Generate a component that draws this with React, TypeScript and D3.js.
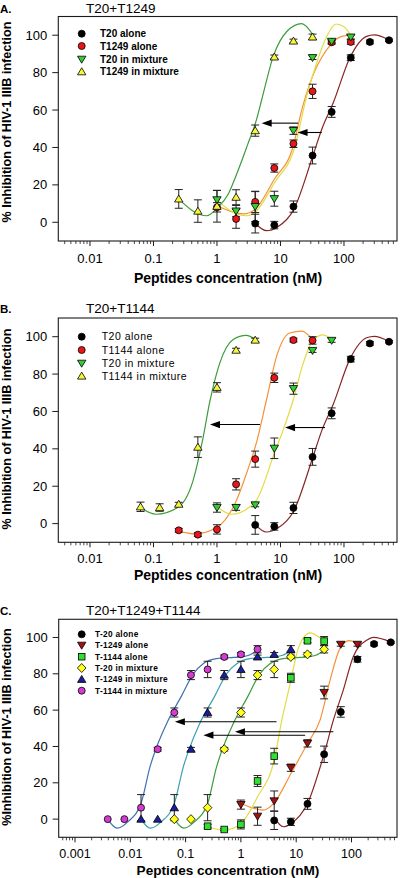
import React from 'react';
import * as d3 from 'd3';

// ---------------- DATA ----------------
// shared control: T-20 alone
const T20_ALONE_CONC = [4, 8, 16, 32, 64, 128, 256, 512];
const T20_ALONE_VAL = [-0.7, -1.5, 8.4, 35.7, 59, 88, 96.4, 97.3];
const T20_ALONE_ERR = [5, 2, 3, 4.5, 2.9, 1.5, 1, 0.6];

// Panel A
const A_T1249_ALONE_CONC = [1, 2, 4, 8, 16, 32, 64, 128];
const A_T1249_ALONE_VAL = [8, 1.8, 10.9, 29, 42, 70, 96.2, 96.4];
const A_T1249_ALONE_ERR = [2.5, 5, 5.7, 2.2, 2, 3.8, 1, 1.2];
const A_T20_MIX_CONC = [1, 2, 4, 8, 16, 32, 64, 128];
const A_T20_MIX_VAL = [12, 6, 8.4, 12.6, 49, 88, 96.7, 99];
const A_T20_MIX_ERR = [5, 3, 8, 4, 2, 1, 1, 1];
const A_T1249_MIX_CONC = [0.25, 0.5, 1, 2, 4, 8, 16, 32];
const A_T1249_MIX_VAL = [12.5, 6, 8.6, 13.4, 49, 88.4, 96.9, 99.1];
const A_T1249_MIX_ERR = [5, 6, 8.5, 4, 3, 1, 1, 1.5];

// Panel B
const B_T1144_ALONE_CONC = [0.25, 0.5, 1, 2, 4, 8, 16, 32];
const B_T1144_ALONE_VAL = [-3.6, -5.9, -3.1, 21, 34.5, 78, 98.2, 98];
const B_T1144_ALONE_ERR = [1, 1, 2.5, 3, 4.3, 2.5, 1, 2];
const B_T20_MIX_CONC = [1, 2, 4, 8, 16, 32, 64];
const B_T20_MIX_VAL = [8.6, 8.6, 10, 40.3, 72.2, 92.6, 98];
const B_T20_MIX_ERR = [2.5, 1.5, 1, 5.5, 3, 1, 1];
const B_T1144_MIX_CONC = [0.0625, 0.125, 0.25, 0.5, 1, 2, 4];
const B_T1144_MIX_VAL = [9, 8.6, 10.4, 40.9, 72.9, 92.8, 98.2];
const B_T1144_MIX_ERR = [2.5, 2, 1, 5.5, 2.5, 1, 1];

// Panel C
const C_T1249_ALONE_CONC = [1, 2, 4, 8, 16, 32, 64, 128];
const C_T1249_ALONE_VAL = [8, 1.6, 10, 28.3, 41.7, 69.7, 96.2, 96.2];
const C_T1249_ALONE_ERR = [2.5, 5, 5.5, 2, 2, 3.5, 1, 1];
const C_T1144_ALONE_CONC = [0.25, 0.5, 1, 2, 4, 8, 16, 32];
const C_T1144_ALONE_VAL = [-3.9, -5.7, -2.9, 21, 34.7, 77.8, 98.2, 98];
const C_T1144_ALONE_ERR = [1, 0.6, 2.5, 3, 4.3, 2.5, 1, 2.5];
const C_T20_MIX_CONC = [0.0625, 0.125, 0.25, 0.5, 1, 2, 4, 8, 16, 32];
const C_T1249_MIX_CONC = [0.015625, 0.03125, 0.0625, 0.125, 0.25, 0.5, 1, 2, 4, 8];
const C_T1144_MIX_CONC = [0.00390625, 0.0078125, 0.015625, 0.03125, 0.0625, 0.125, 0.25, 0.5, 1, 2];
const C_MIX_VAL = [0, 0, 6.3, 38.5, 58.7, 79.3, 82.4, 89.3, 90.7, 93.5];
const C_MIX_ERR = [0, 0, 7.2, 1, 2.5, 2.5, 4.5, 1, 1, 2];

// fitted curves
const FIT_T20_ALONE_CONC = [4, 6, 9, 16, 32, 45, 68, 124, 227, 300, 512];
const FIT_T20_ALONE_VAL = [-0.5, -4.5, -2.5, 6.5, 35, 50, 64, 88, 99.4, 100.2, 97.5];

const FIT_A_T1249_ALONE_CONC = [1, 1.6, 2.6, 4, 8, 15.8, 21.6, 32, 53, 86, 128];
const FIT_A_T1249_ALONE_VAL = [9, 6, 4.5, 7, 23, 40.5, 60, 78, 92, 99, 100];
const FIT_A_T20_MIX_CONC = [1, 1.5, 2.9, 4, 8, 16.9, 25.7, 37, 53, 75, 100, 128];
const FIT_A_T20_MIX_VAL = [12, 7, 3.5, 5.5, 21, 40.5, 67, 85, 99, 106, 104.5, 100];
const FIT_A_T1249_MIX_CONC = [0.25, 0.4, 0.69, 1, 1.5, 2, 3, 4.2, 5.06, 7.7, 12.6, 21.6, 32];
const FIT_A_T1249_MIX_VAL = [12.5, 6.5, 3.5, 7.5, 15, 25, 41, 55, 65.5, 88.7, 102, 106.2, 100.5];

const FIT_B_T1144_ALONE_CONC = [0.25, 0.45, 1, 2, 3, 4.3, 6, 8.7, 14, 21.6, 32];
const FIT_B_T1144_ALONE_VAL = [-4, -5.5, -2, 12, 28, 44.8, 66, 89.6, 102, 103, 98.5];
const FIT_B_T20_MIX_CONC = [1, 1.7, 4, 8, 11, 15.8, 22.9, 33, 47, 64];
const FIT_B_T20_MIX_VAL = [9, 5, 11.6, 37.6, 50, 66, 86, 98.5, 101, 98.5];
const FIT_B_T1144_MIX_CONC = [0.0625, 0.11, 0.25, 0.42, 0.58, 0.78, 1.11, 1.8, 2.9, 4];
const FIT_B_T1144_MIX_VAL = [8.5, 5, 9, 23, 43, 66, 86, 98.5, 100.7, 98.5];

const FIT_C_T20_ALONE_CONC = [4, 5.85, 8, 16, 32, 47, 71, 107, 188, 248, 512];
const FIT_C_T20_ALONE_VAL = [1, -4.2, -2.5, 8.6, 36, 54.5, 71, 89.3, 98.5, 100, 97.5];
const FIT_C_T1249_ALONE_CONC = [1, 1.5, 2.5, 4, 8, 16, 27, 41, 62, 90, 128];
const FIT_C_T1249_ALONE_VAL = [8.6, 6.5, 5, 9, 25, 41.7, 54.5, 76.5, 94, 98.3, 97];
const FIT_C_T1144_ALONE_CONC = [0.25, 0.5, 1, 2, 4, 5.5, 7.7, 10.9, 14, 18, 25, 32];
const FIT_C_T1144_ALONE_VAL = [-4.2, -6, -2.5, 12.3, 32.5, 54.5, 74, 94, 100.5, 102.5, 100.5, 98];
const FIT_C_T20_MIX_CONC = [0.0625, 0.093, 0.144, 0.25, 0.363, 0.48, 0.73, 1.36, 2.2, 3.4, 5.8, 11.7, 16, 22.6, 32];
const FIT_C_T1249_MIX_CONC = [0.0156, 0.023, 0.036, 0.0625, 0.091, 0.12, 0.18, 0.34, 0.55, 0.85, 1.45, 2.9, 4, 5.7, 8];
const FIT_C_T1144_MIX_CONC = [0.0039, 0.0058, 0.009, 0.0156, 0.0227, 0.03, 0.0455, 0.085, 0.138, 0.21, 0.36, 0.73, 1, 1.4, 2];
const FIT_C_MIX_VAL = [0, -5, -1.5, 8.6, 28.8, 39.8, 52.7, 68, 80, 85.7, 88.4, 89, 89.3, 90.2, 93];

// arrows: tail conc, head conc, value
const ARROWS_A_FROM = [19, 44.6];
const ARROWS_A_TO = [5.06, 18.6];
const ARROWS_A_Y = [53, 48];
const ARROWS_B_FROM = [4.75, 50.2];
const ARROWS_B_TO = [0.776, 11.8];
const ARROWS_B_Y = [53, 51.4];
const ARROWS_C_FROM = [4.4, 47, 14.5];
const ARROWS_C_TO = [0.064, 0.78, 0.21];
const ARROWS_C_Y = [53.6, 48.1, 46.2];

// axes
const X_TICKS_AB = [0.01, 0.1, 1, 10, 100];
const X_LABELS_AB = ['0.01', '0.1', '1', '10', '100'];
const X_TICKS_C = [0.001, 0.01, 0.1, 1, 10, 100];
const X_LABELS_C = ['0.001', '0.01', '0.1', '1', '10', '100'];
const Y_TICKS = [0, 20, 40, 60, 80, 100];

const LEGEND_A = ['T20 alone', 'T1249 alone', 'T20 in mixture', 'T1249 in mixture'];
const LEGEND_B = ['T20 alone', 'T1144 alone', 'T20 in mixture', 'T1144 in mixture'];
const LEGEND_C = ['T-20 alone', 'T-1249 alone', 'T-1144 alone', 'T-20 in mixture', 'T-1249 in mixture', 'T-1144 in mixture'];

// ---------------- STYLE ----------------
const FONT = '"Liberation Sans", Arial, Helvetica, sans-serif';
const COL = {
  black: '#000000', red: '#e8161b', greenTri: '#33cc33', yellowTri: '#f6f63c',
  darkRed: '#a3100f', greenSq: '#2fe02f', yellowDia: '#ffff1a', navy: '#1c1c9c', magenta: '#d23cd2',
  cBrown: '#8a2424', cOrange: '#f5923a', cYellow: '#e2dc44', cGreen: '#3c9c3c', cTeal: '#3a9fb4', cSteel: '#3f70b0',
};

type Shape = 'circle' | 'up' | 'down' | 'square' | 'diamond';

function Marker({ shape, x, y, fill }: { shape: Shape; x: number; y: number; fill: string }) {
  const sw = 0.8;
  if (shape === 'circle') return <circle cx={x} cy={y} r={3.5} fill={fill} stroke="#000" strokeWidth={sw} />;
  if (shape === 'up') return <path d={`M${x},${y - 3.9}L${x + 4.2},${y + 3.1}L${x - 4.2},${y + 3.1}Z`} fill={fill} stroke="#000" strokeWidth={sw} />;
  if (shape === 'down') return <path d={`M${x},${y + 3.9}L${x + 4.2},${y - 3.1}L${x - 4.2},${y - 3.1}Z`} fill={fill} stroke="#000" strokeWidth={sw} />;
  if (shape === 'square') return <rect x={x - 3.3} y={y - 3.3} width={6.6} height={6.6} fill={fill} stroke="#000" strokeWidth={sw} />;
  return <path d={`M${x},${y - 4.5}L${x + 4.3},${y}L${x},${y + 4.5}L${x - 4.3},${y}Z`} fill={fill} stroke="#000" strokeWidth={sw} />;
}

interface Series { conc: number[]; val: number[]; err: number[]; shape: Shape; fill: string }
interface Curve { conc: number[]; val: number[]; color: string }
interface PanelCfg {
  letter: string; title: string; titleY: number;
  top: number; bottom: number; left: number; right: number;
  xDomain: [number, number];
  xTicks: number[]; xLabels: string[];
  tickLabelY: number; tickFont: number; xLabelY: number; xLabelFont: number; yLabelCY: number; yLabel: string;
  legend: string[]; legendRows: number[]; legendTextX: number;
  legendFont: number; legendWeight: string; legendSpacing: number;
  series: Series[]; curves: Curve[];
  arrowsFrom: number[]; arrowsTo: number[]; arrowsY: number[];
}

function Panel({ c }: { c: PanelCfg }) {
  const x = d3.scaleLog().domain(c.xDomain).range([c.left, c.right]);
  const y = d3.scaleLinear().domain([-10, 110]).range([c.bottom, c.top]);
  const allTicks = x.ticks();
  const minor = allTicks.filter((t) => Math.abs(Math.log10(t) - Math.round(Math.log10(t))) > 1e-6);
  const line = d3.line<[number, number]>().x((d) => x(d[0])).y((d) => y(d[1])).curve(d3.curveMonotoneX);
  const frame = '#1a1a1a';
  return (
    <g>
      <text x={0} y={c.titleY} fontFamily={FONT} fontWeight="bold" fontSize={11.5}>{c.letter}</text>
      <text x={86} y={c.titleY} fontFamily={FONT} fontSize={13.5}>{c.title}</text>
      {c.curves.map((cv, i) => (
        <path key={'cv' + i} d={line(cv.conc.map((v, j) => [v, cv.val[j]] as [number, number])) || ''} fill="none" stroke={cv.color} strokeWidth={1.2} />
      ))}
      {c.arrowsFrom.map((f, i) => {
        const x1 = x(f), x2 = x(c.arrowsTo[i]), yy = y(c.arrowsY[i]);
        return (
          <g key={'ar' + i}>
            <line x1={x1} x2={x2 + 8} y1={yy} y2={yy} stroke="#000" strokeWidth={1.1} />
            <path d={`M${x2},${yy}L${x2 + 10},${yy - 3.6}L${x2 + 10},${yy + 3.6}Z`} fill="#000" />
          </g>
        );
      })}
      {c.series.map((s, i) => (
        <g key={'eb' + i} stroke="#222" strokeWidth={1}>
          {s.conc.map((v, j) => {
            const e = s.err[j];
            if (!e) return null;
            const xx = x(v), y1 = y(s.val[j] + e), y2 = y(s.val[j] - e);
            return (
              <g key={j}>
                <line x1={xx} x2={xx} y1={y1} y2={y2} />
                <line x1={xx - 4} x2={xx + 4} y1={y1} y2={y1} />
                <line x1={xx - 4} x2={xx + 4} y1={y2} y2={y2} />
              </g>
            );
          })}
        </g>
      ))}
      {c.series.map((s, i) => (
        <g key={'mk' + i}>
          {s.conc.map((v, j) => <Marker key={j} shape={s.shape} x={x(v)} y={y(s.val[j])} fill={s.fill} />)}
        </g>
      ))}
      <rect x={c.left} y={c.top} width={c.right - c.left} height={c.bottom - c.top} fill="none" stroke={frame} strokeWidth={1.1} />
      {minor.map((t, i) => <line key={'mn' + i} x1={x(t)} x2={x(t)} y1={c.bottom} y2={c.bottom + 3} stroke={frame} strokeWidth={0.8} />)}
      {c.xTicks.map((t, i) => (
        <g key={'mj' + i}>
          <line x1={x(t)} x2={x(t)} y1={c.bottom} y2={c.bottom + 5} stroke={frame} strokeWidth={1} />
          <text x={x(t)} y={c.tickLabelY} textAnchor="middle" fontFamily={FONT} fontSize={c.tickFont}>{c.xLabels[i]}</text>
        </g>
      ))}
      {Y_TICKS.map((t) => (
        <g key={'yt' + t}>
          <line x1={c.left - 6} x2={c.left} y1={y(t)} y2={y(t)} stroke={frame} strokeWidth={1} />
          <text x={c.left - 11} y={y(t) + 4.6} textAnchor="end" fontFamily={FONT} fontSize={13}>{t}</text>
        </g>
      ))}
      <text x={228} y={c.xLabelY} textAnchor="middle" fontFamily={FONT} fontWeight="bold" fontSize={c.xLabelFont}>Peptides concentration (nM)</text>
      <text transform={`translate(11,${c.yLabelCY}) rotate(-90)`} textAnchor="middle" fontFamily={FONT} fontWeight="bold" fontSize={12.6}>{c.yLabel}</text>
      {c.legend.map((lab, i) => (
        <g key={'lg' + i}>
          <Marker shape={c.series[i].shape} x={81.7} y={c.legendRows[i]} fill={c.series[i].fill} />
          <text x={c.legendTextX} y={c.legendRows[i] + c.legendFont * 0.36} fontFamily={FONT} fontSize={c.legendFont} fontWeight={c.legendWeight} letterSpacing={c.legendSpacing}>{lab}</text>
        </g>
      ))}
    </g>
  );
}

const t20Alone = (shape: Shape): Series => ({ conc: T20_ALONE_CONC, val: T20_ALONE_VAL, err: T20_ALONE_ERR, shape, fill: COL.black });

const PANEL_A: PanelCfg = {
  letter: 'A.', title: 'T20+T1249', titleY: 12.7,
  top: 16.5, bottom: 241, left: 58.3, right: 397, xDomain: [0.00317, 684],
  xTicks: X_TICKS_AB, xLabels: X_LABELS_AB, tickLabelY: 263, tickFont: 13, xLabelY: 283, xLabelFont: 14, yLabelCY: 122,
  yLabel: '% Inhibition of HIV-1 IIIB infection',
  legend: LEGEND_A, legendRows: [33.7, 46, 59.3, 71.7], legendTextX: 100, legendFont: 10, legendWeight: 'bold', legendSpacing: 0,
  series: [
    t20Alone('circle'),
    { conc: A_T1249_ALONE_CONC, val: A_T1249_ALONE_VAL, err: A_T1249_ALONE_ERR, shape: 'circle', fill: COL.red },
    { conc: A_T20_MIX_CONC, val: A_T20_MIX_VAL, err: A_T20_MIX_ERR, shape: 'down', fill: COL.greenTri },
    { conc: A_T1249_MIX_CONC, val: A_T1249_MIX_VAL, err: A_T1249_MIX_ERR, shape: 'up', fill: COL.yellowTri },
  ],
  curves: [
    { conc: FIT_T20_ALONE_CONC, val: FIT_T20_ALONE_VAL, color: COL.cBrown },
    { conc: FIT_A_T1249_ALONE_CONC, val: FIT_A_T1249_ALONE_VAL, color: COL.cOrange },
    { conc: FIT_A_T20_MIX_CONC, val: FIT_A_T20_MIX_VAL, color: COL.cYellow },
    { conc: FIT_A_T1249_MIX_CONC, val: FIT_A_T1249_MIX_VAL, color: COL.cGreen },
  ],
  arrowsFrom: ARROWS_A_FROM, arrowsTo: ARROWS_A_TO, arrowsY: ARROWS_A_Y,
};

const PANEL_B: PanelCfg = {
  letter: 'B.', title: 'T20+T1144', titleY: 313.3,
  top: 318, bottom: 542.3, left: 58.3, right: 397, xDomain: [0.00317, 684],
  xTicks: X_TICKS_AB, xLabels: X_LABELS_AB, tickLabelY: 563, tickFont: 13, xLabelY: 580, xLabelFont: 14, yLabelCY: 429,
  yLabel: '% Inhibition of HIV-1 IIIB infection',
  legend: LEGEND_B, legendRows: [336.7, 350, 363.3, 376], legendTextX: 101.7, legendFont: 10.5, legendWeight: 'normal', legendSpacing: 0.5,
  series: [
    t20Alone('circle'),
    { conc: B_T1144_ALONE_CONC, val: B_T1144_ALONE_VAL, err: B_T1144_ALONE_ERR, shape: 'circle', fill: COL.red },
    { conc: B_T20_MIX_CONC, val: B_T20_MIX_VAL, err: B_T20_MIX_ERR, shape: 'down', fill: COL.greenTri },
    { conc: B_T1144_MIX_CONC, val: B_T1144_MIX_VAL, err: B_T1144_MIX_ERR, shape: 'up', fill: COL.yellowTri },
  ],
  curves: [
    { conc: FIT_T20_ALONE_CONC, val: FIT_T20_ALONE_VAL, color: COL.cBrown },
    { conc: FIT_B_T1144_ALONE_CONC, val: FIT_B_T1144_ALONE_VAL, color: COL.cOrange },
    { conc: FIT_B_T20_MIX_CONC, val: FIT_B_T20_MIX_VAL, color: COL.cYellow },
    { conc: FIT_B_T1144_MIX_CONC, val: FIT_B_T1144_MIX_VAL, color: COL.cGreen },
  ],
  arrowsFrom: ARROWS_B_FROM, arrowsTo: ARROWS_B_TO, arrowsY: ARROWS_B_Y,
};

const PANEL_C: PanelCfg = {
  letter: 'C.', title: 'T20+T1249+T1144', titleY: 615,
  top: 619.3, bottom: 837.3, left: 58.7, right: 397, xDomain: [0.000507, 665],
  xTicks: X_TICKS_C, xLabels: X_LABELS_C, tickLabelY: 857.5, tickFont: 12.5, xLabelY: 874.5, xLabelFont: 13.6, yLabelCY: 727,
  yLabel: '%Inhibition of HIV-1 IIIB infection',
  legend: LEGEND_C, legendRows: [634.3, 645.3, 656.7, 668, 679.3, 690.7], legendTextX: 95, legendFont: 8.3, legendWeight: 'bold', legendSpacing: 0.3,
  series: [
    t20Alone('circle'),
    { conc: C_T1249_ALONE_CONC, val: C_T1249_ALONE_VAL, err: C_T1249_ALONE_ERR, shape: 'down', fill: COL.darkRed },
    { conc: C_T1144_ALONE_CONC, val: C_T1144_ALONE_VAL, err: C_T1144_ALONE_ERR, shape: 'square', fill: COL.greenSq },
    { conc: C_T20_MIX_CONC, val: C_MIX_VAL, err: C_MIX_ERR, shape: 'diamond', fill: COL.yellowDia },
    { conc: C_T1249_MIX_CONC, val: C_MIX_VAL, err: C_MIX_ERR, shape: 'up', fill: COL.navy },
    { conc: C_T1144_MIX_CONC, val: C_MIX_VAL, err: C_MIX_ERR, shape: 'circle', fill: COL.magenta },
  ],
  curves: [
    { conc: FIT_C_T20_ALONE_CONC, val: FIT_C_T20_ALONE_VAL, color: COL.cBrown },
    { conc: FIT_C_T1249_ALONE_CONC, val: FIT_C_T1249_ALONE_VAL, color: COL.cOrange },
    { conc: FIT_C_T1144_ALONE_CONC, val: FIT_C_T1144_ALONE_VAL, color: COL.cYellow },
    { conc: FIT_C_T20_MIX_CONC, val: FIT_C_MIX_VAL, color: COL.cGreen },
    { conc: FIT_C_T1249_MIX_CONC, val: FIT_C_MIX_VAL, color: COL.cTeal },
    { conc: FIT_C_T1144_MIX_CONC, val: FIT_C_MIX_VAL, color: COL.cSteel },
  ],
  arrowsFrom: ARROWS_C_FROM, arrowsTo: ARROWS_C_TO, arrowsY: ARROWS_C_Y,
};

export default function App() {
  return (
    <svg width={400} height={878} viewBox="0 0 400 878" style={{ position: 'absolute', left: 0, top: 0, display: 'block', background: '#fff' }}>
      <rect x={0} y={0} width={400} height={878} fill="#fff" />
      <Panel c={PANEL_A} />
      <Panel c={PANEL_B} />
      <Panel c={PANEL_C} />
    </svg>
  );
}
